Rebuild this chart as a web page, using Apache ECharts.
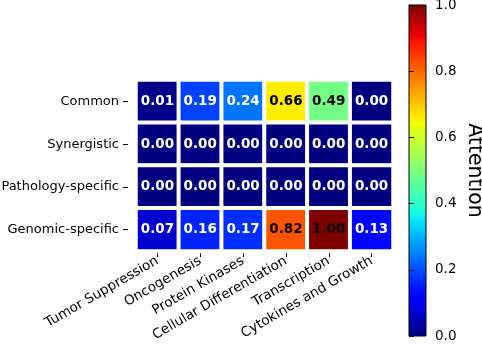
<!DOCTYPE html>
<html>
<head>
<meta charset="utf-8">
<script src="https://cdn.jsdelivr.net/npm/echarts@6/dist/echarts.min.js"></script>
<style>
  html, body { margin: 0; padding: 0; background: #fff; }
  #chart { width: 482px; height: 352px; }
</style>
</head>
<body>
<div id="chart"></div>
<script>
const categories = ['Tumor Suppression', 'Oncogenesis', 'Protein Kinases',
  'Cellular Differentiation', 'Transcription', 'Cytokines and Growth'];
const groups = ['Common', 'Synergistic', 'Pathology-specific', 'Genomic-specific'];

const common = [0.01, 0.19, 0.24, 0.66, 0.49, 0.00];
const synergistic = [0.00, 0.00, 0.00, 0.00, 0.00, 0.00];
const pathologySpecific = [0.00, 0.00, 0.00, 0.00, 0.00, 0.00];
const genomicSpecific = [0.07, 0.16, 0.17, 0.82, 1.00, 0.13];

// matplotlib 'jet' colour map
function jet(t) {
  function seg(pts) {
    for (let i = 1; i < pts.length; i++) {
      if (t <= pts[i][0]) {
        const a = pts[i - 1], b = pts[i];
        return a[1] + (b[1] - a[1]) * (t - a[0]) / (b[0] - a[0]);
      }
    }
    return pts[pts.length - 1][1];
  }
  const r = seg([[0, 0], [0.35, 0], [0.66, 1], [0.89, 1], [1, 0.5]]);
  const g = seg([[0, 0], [0.125, 0], [0.375, 1], [0.64, 1], [0.91, 0], [1, 0]]);
  const b = seg([[0, 0.5], [0.11, 1], [0.34, 1], [0.65, 0], [1, 0]]);
  return 'rgb(' + Math.round(r * 255) + ',' + Math.round(g * 255) + ',' + Math.round(b * 255) + ')';
}
const jetColors = [];
const jetStops = [];
for (let i = 0; i <= 100; i++) {
  jetColors.push(jet(i / 100));
  jetStops.push({ offset: 1 - i / 100, color: jet(i / 100) });
}
jetStops.reverse();

const rows = [common, synergistic, pathologySpecific, genomicSpecific];
const data = [];
rows.forEach((row, y) => {
  row.forEach((v, x) => {
    data.push({
      value: [x, y, v],
      label: { color: v > 0.4 ? '#000' : '#fff' }
    });
  });
});

const font = 'DejaVu Sans';
var myChart = echarts.init(document.getElementById('chart'));

option = {
  animation: false,
  textStyle: { fontFamily: font },
  grid: [
    { left: 136, top: 80, width: 257, height: 171, outerBoundsMode: 'none', containLabel: false },
    // colorbar: gradient background, black frame, tick axis on the right
    { left: 409, top: 5, width: 17, height: 331, show: true, outerBoundsMode: 'none', containLabel: false,
      borderColor: '#000', borderWidth: 1,
      backgroundColor: { type: 'linear', x: 0, y: 0, x2: 0, y2: 1, colorStops: jetStops } }
  ],
  xAxis: [
    {
      type: 'category', data: categories, gridIndex: 0, offset: 1,
      axisLine: { show: false },
      axisTick: { show: true, alignWithLabel: true, length: 5, lineStyle: { color: '#000' } },
      axisLabel: { rotate: 30, color: '#000', fontSize: 13.5, fontFamily: font, margin: 8, interval: 0 },
      splitLine: { show: false }
    },
    { type: 'value', gridIndex: 1, show: false }
  ],
  yAxis: [
    {
      type: 'category', data: groups, gridIndex: 0, inverse: true, offset: 8,
      axisLine: { show: false },
      axisTick: { show: true, alignWithLabel: true, length: 5, lineStyle: { color: '#000' } },
      axisLabel: { color: '#000', fontSize: 13, fontFamily: font, margin: 9 },
      splitLine: { show: false }
    },
    {
      type: 'value', gridIndex: 1, position: 'right', min: 0, max: 1, interval: 0.2,
      axisLine: { show: false },
      axisTick: { show: true, length: 5, lineStyle: { color: '#000', width: 1 } },
      axisLabel: { color: '#000', fontSize: 13.5, fontFamily: font, margin: 9,
        formatter: v => v.toFixed(1) },
      splitLine: { show: false },
      name: 'Attention', nameLocation: 'middle', nameRotate: -90, nameGap: 38,
      nameTextStyle: { color: '#000', fontSize: 20.5, fontFamily: font }
    }
  ],
  visualMap: {
    type: 'continuous', min: 0, max: 1, show: false,
    seriesIndex: 0,
    inRange: { color: jetColors }
  },
  series: [{
    type: 'heatmap',
    xAxisIndex: 0, yAxisIndex: 0,
    data: data,
    itemStyle: { borderColor: '#fff', borderWidth: 4 },
    label: {
      show: true, fontWeight: 'bold', fontSize: 13.5, fontFamily: font,
      formatter: p => p.value[2].toFixed(2)
    },
    emphasis: { disabled: true }
  }]
};

myChart.setOption(option);
</script>
</body>
</html>
